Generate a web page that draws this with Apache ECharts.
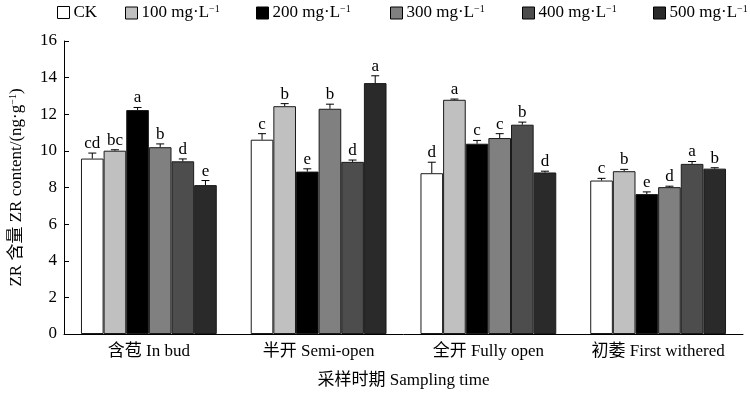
<!DOCTYPE html>
<html>
<head>
<meta charset="utf-8">
<script src="https://cdn.jsdelivr.net/npm/echarts@6/dist/echarts.min.js"></script>
<style>
  html, body { margin: 0; padding: 0; background: #fff; }
  #main { width: 750px; height: 394px; }
</style>
</head>
<body>
<div id="main"></div>
<script>
  // sampling stages
  var stages = ['含苞 In bud', '半开 Semi-open', '全开 Fully open', '初萎 First withered'];
  var seriesNames = ['CK', '100 mg·L-1', '200 mg·L-1', '300 mg·L-1', '400 mg·L-1', '500 mg·L-1'];
  var seriesColors = ['#ffffff', '#c0c0c0', '#000000', '#808080', '#4d4d4d', '#2a2a2a'];

  // ZR content, ng·g-1
  var ckVals = [9.58, 10.61, 8.78, 8.38];
  var c100Vals = [10.01, 12.44, 12.79, 8.89];
  var c200Vals = [12.23, 8.87, 10.39, 7.64];
  var c300Vals = [10.20, 12.30, 10.70, 8.02];
  var c400Vals = [9.43, 9.40, 11.43, 9.29];
  var c500Vals = [8.13, 13.70, 8.82, 9.03];

  // standard errors
  var ckErr = [0.30, 0.33, 0.60, 0.12];
  var c100Err = [0.05, 0.14, 0.04, 0.10];
  var c200Err = [0.14, 0.15, 0.18, 0.12];
  var c300Err = [0.18, 0.25, 0.24, 0.05];
  var c400Err = [0.13, 0.10, 0.14, 0.13];
  var c500Err = [0.25, 0.40, 0.07, 0.05];

  // significance letters
  var ckSig = ['cd', 'c', 'd', 'c'];
  var c100Sig = ['bc', 'b', 'a', 'b'];
  var c200Sig = ['a', 'e', 'c', 'e'];
  var c300Sig = ['b', 'b', 'c', 'd'];
  var c400Sig = ['d', 'd', 'b', 'a'];
  var c500Sig = ['e', 'a', 'd', 'b'];

  var allVals = [ckVals, c100Vals, c200Vals, c300Vals, c400Vals, c500Vals];
  var allErr = [ckErr, c100Err, c200Err, c300Err, c400Err, c500Err];
  var allSig = [ckSig, c100Sig, c200Sig, c300Sig, c400Sig, c500Sig];

  var font = '"Liberation Serif", "Noto Sans CJK SC", serif';
  var nBars = seriesNames.length;
  var catGap = 0.2;
  var legendLeft = [57, 125, 256, 390, 522, 653];

  var chart = echarts.init(document.getElementById('main'));

  var series = [];
  for (var s = 0; s < nBars; s++) {
    series.push({
      name: seriesNames[s],
      type: 'bar',
      data: allVals[s],
      barGap: '0%',
      barCategoryGap: '20%',
      itemStyle: {
        color: seriesColors[s],
        borderColor: '#1a1a1a',
        borderWidth: 1
      }
    });
  }

  // error bars + letters
  var errData = [];
  for (var s2 = 0; s2 < nBars; s2++) {
    for (var c = 0; c < stages.length; c++) {
      errData.push([c, s2, allVals[s2][c], allErr[s2][c]]);
    }
  }

  series.push({
    type: 'custom',
    name: 'err',
    data: errData,
    encode: { x: 0, y: 2 },
    z: 5,
    silent: true,
    renderItem: function (params, api) {
      var cat = api.value(0);
      var idx = api.value(1);
      var val = api.value(2);
      var err = api.value(3);
      var letter = allSig[idx][cat];
      var bandW = api.size([1, 0])[0];
      var bw = bandW * (1 - catGap) / nBars;
      var base = api.coord([cat, val]);
      var x = base[0] + (idx - (nBars - 1) / 2) * bw;
      var y0 = base[1];
      var y1 = api.coord([cat, val + err])[1];
      var cap = 4;
      return {
        type: 'group',
        children: [
          { type: 'line', shape: { x1: x, y1: y0, x2: x, y2: y1 }, style: { stroke: '#000', lineWidth: 1 } },
          { type: 'line', shape: { x1: x - cap, y1: y1, x2: x + cap, y2: y1 }, style: { stroke: '#000', lineWidth: 1 } },
          { type: 'text', x: x, y: y1 - 1, style: { text: letter, fill: '#000', font: '17px ' + font, align: 'center', verticalAlign: 'bottom' } }
        ]
      };
    }
  });

  var richText = {
    t: { fontSize: 17, fontFamily: font, color: '#000', lineHeight: 18 },
    s: { fontSize: 10, fontFamily: font, color: '#000', verticalAlign: 'top', lineHeight: 18, padding: [0, 0, 7, 0] }
  };

  // one legend per item so spacing follows the reference
  var legends = [];
  for (var k = 0; k < nBars; k++) {
    legends.push({
      data: [seriesNames[k]],
      top: 4,
      left: legendLeft[k],
      padding: 0,
      itemWidth: 12,
      itemHeight: 12,
      itemGap: 0,
      icon: 'rect',
      itemStyle: { borderColor: '#000', borderWidth: 1 },
      formatter: function (name) {
        if (name === 'CK') return '{t|CK}';
        return '{t|' + name.replace('-1', '') + '}{s|−1}';
      },
      textStyle: { fontFamily: font, color: '#000', padding: [0, 0, 0, -1], rich: richText }
    });
  }

  chart.setOption({
    animation: false,
    backgroundColor: '#fff',
    textStyle: { fontFamily: font, color: '#000' },
    legend: legends,
    grid: { left: 63, right: 7, top: 41, bottom: 59, containLabel: false },
    xAxis: {
      type: 'category',
      data: stages,
      name: '采样时期 Sampling time',
      nameLocation: 'middle',
      nameGap: 38,
      nameTextStyle: { fontSize: 17, fontFamily: font, color: '#000' },
      axisLine: { lineStyle: { color: '#000', width: 1 } },
      axisTick: { show: false },
      axisLabel: { interval: 0, fontSize: 17, fontFamily: font, color: '#000', margin: 9 }
    },
    yAxis: {
      type: 'value',
      min: 0,
      max: 16,
      interval: 2,
      name: '{t|ZR 含量 ZR content/(ng·g}{s|−1}{t|)}',
      nameLocation: 'middle',
      nameGap: 38,
      nameTextStyle: { rich: richText },
      splitLine: { show: false },
      axisLine: { show: true, lineStyle: { color: '#000', width: 1 } },
      axisTick: { show: true, inside: true, length: 5, lineStyle: { color: '#000' } },
      axisLabel: { fontSize: 17, fontFamily: font, color: '#000', margin: 7 }
    },
    series: series
  });
</script>
</body>
</html>
